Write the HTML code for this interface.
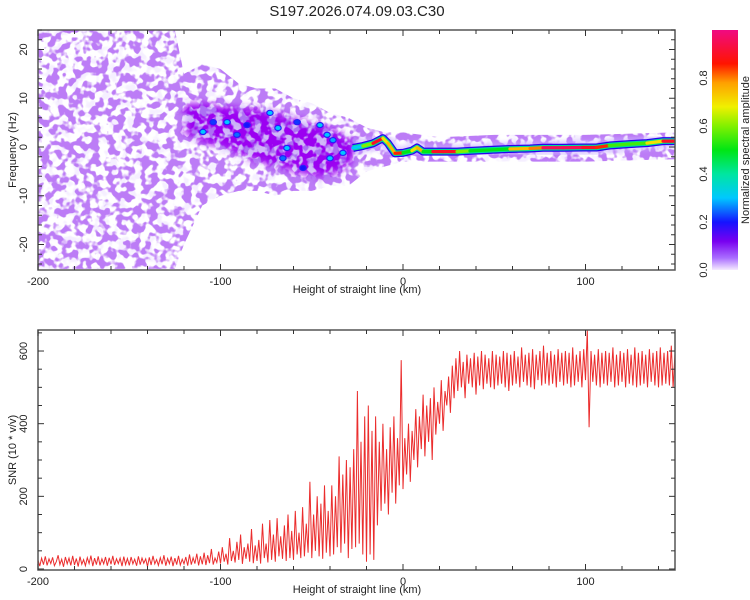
<!DOCTYPE html>
<html><head><meta charset="utf-8"><style>
html,body{margin:0;padding:0;background:#fff;}
svg{display:block;font-family:"Liberation Sans",sans-serif;}
</style></head><body>
<svg id="c" width="750" height="600" viewBox="0 0 750 600" xmlns="http://www.w3.org/2000/svg">
<defs>
<clipPath id="topClip"><rect x="38" y="30" width="637" height="240"/></clipPath>
<clipPath id="botClip"><rect x="38" y="330" width="637" height="240"/></clipPath>
<clipPath id="noiseClip"><polygon id="noisePoly" points=""/></clipPath>
<mask id="denseMask" maskUnits="userSpaceOnUse" x="0" y="0" width="750" height="300"><polygon id="densePoly" points="" fill="white" filter="url(#blur3)"/></mask>
<filter id="speckLight" x="0" y="0" width="750" height="300" filterUnits="userSpaceOnUse">
<feTurbulence type="fractalNoise" baseFrequency="0.11" numOctaves="2" seed="3"/>
<feColorMatrix type="matrix" values="0 0 0 0 0.86  0 0 0 0 0.78  0 0 0 0 1  6 0 0 0 -3.0"/>
</filter>
<filter id="speckDark" x="0" y="0" width="750" height="300" filterUnits="userSpaceOnUse">
<feTurbulence type="fractalNoise" baseFrequency="0.12" numOctaves="2" seed="11"/>
<feColorMatrix type="matrix" values="0 0 0 0 0.5  0 0 0 0 0.2  0 0 0 0 0.92  9 0 0 0 -4.2"/>
</filter>
<filter id="speckDense" x="0" y="0" width="750" height="300" filterUnits="userSpaceOnUse">
<feTurbulence type="fractalNoise" baseFrequency="0.13" numOctaves="2" seed="7"/>
<feColorMatrix type="matrix" values="0 0 0 0 0.33  0 0 0 0 0.0  0 0 0 0 0.88  8 0 0 0 -3.4"/>
</filter>
<filter id="blur2"><feGaussianBlur stdDeviation="2"/></filter>
<filter id="blur3" x="-20%" y="-20%" width="140%" height="140%"><feGaussianBlur stdDeviation="4"/></filter>
<linearGradient id="cbar" x1="0" y1="1" x2="0" y2="0">
<stop offset="0" stop-color="rgb(245,235,255)"/><stop offset="0.05" stop-color="rgb(170,110,255)"/>
<stop offset="0.12" stop-color="rgb(120,0,240)"/><stop offset="0.2" stop-color="rgb(20,20,255)"/>
<stop offset="0.3" stop-color="rgb(0,200,255)"/><stop offset="0.4" stop-color="rgb(0,230,160)"/>
<stop offset="0.5" stop-color="rgb(0,230,20)"/><stop offset="0.6" stop-color="rgb(130,240,0)"/>
<stop offset="0.68" stop-color="rgb(240,240,0)"/><stop offset="0.78" stop-color="rgb(255,160,0)"/>
<stop offset="0.86" stop-color="rgb(255,20,0)"/><stop offset="1" stop-color="rgb(240,10,130)"/>
</linearGradient>
</defs>
<text x="357" y="16" font-size="15" text-anchor="middle" fill="#222">S197.2026.074.09.03.C30</text>
<g id="topG"></g>
<g id="botG"></g>
<g>
<rect x="712" y="30" width="26" height="240" fill="url(#cbar)"/>
<text transform="translate(749,150) rotate(-90)" font-size="11" text-anchor="middle" fill="#222">Normalized spectral amplitude</text>
</g>
<text transform="translate(16,150) rotate(-90)" font-size="11" text-anchor="middle" fill="#222">Frequency (Hz)</text>
<text x="357" y="293" font-size="11" text-anchor="middle" fill="#222">Height of straight line (km)</text>
<text transform="translate(16,450) rotate(-90)" font-size="11" text-anchor="middle" fill="#222">SNR (10 * v/v)</text>
<text x="357" y="593" font-size="11" text-anchor="middle" fill="#222">Height of straight line (km)</text>
</svg>
<script>
// ---- data ----
const xTicks = [-200, -100, 0, 100];
const freqTicks = [20, 10, 0, -10, -20];
const snrTicks = [0, 200, 400, 600];
const cbarTicks = [0.0, 0.2, 0.4, 0.6, 0.8];
const noiseX = [-200,-125,-120,-110,-100,-90,-80,-70,-60,-50,-40,-30,-20,-10,0,20,50,100,150];
const noiseTop = [24,24,15,17,16,13,12,12,10,9,7,6,4,3,3,2,2.5,2.5,3];
const noiseBot = [-25,-25,-20,-12,-10,-9,-9,-10,-9,-9,-8,-8,-5,-4,-3,-3,-3,-3,-2.5];
const denseX = [-120,-110,-100,-90,-80,-70,-60,-50,-40,-30,-25];
const denseTop = [9,9,8.5,8,8,7,6,5,4,2,1];
const denseBot = [3,1,0,-1.5,-3,-4,-5,-6,-6,-4,-1];
const spotX = [-109.6,-96.4,-91,-72.9,-68.5,-63.6,-65.8,-45.5,-41.6,-38.4,-40,-32.9,-58,-85.5,-104,-54.8];
const spotF = [3.1,5.1,2.5,7,3.9,-0.2,-2.3,4.5,2.5,1.4,-2.3,-1.2,5.1,4.5,5.1,-4.3];
const spotA = [0.3,0.3,0.25,0.3,0.3,0.3,0.25,0.32,0.3,0.28,0.3,0.3,0.22,0.2,0.22,0.2];
const ridgeX = [-27.4,-22,-16.4,-11,-8.2,-4.4,0,4.9,7.7,11,16.4,22,29.6,36.7,47.7,58.6,69.6,76.7,87.7,98.6,106,113,124,133.7,142.5,149];
const ridgeF = [-0.2,0.2,0.75,1.8,0.75,-1.3,-1.2,-0.75,-0.1,-0.95,-0.95,-0.95,-0.95,-0.8,-0.6,-0.4,-0.3,-0.15,-0.15,-0.1,-0.1,0.3,0.6,0.8,1.2,1.2];
const ridgeA = [0.3,0.6,0.9,0.7,0.75,0.85,0.5,0.7,0.75,0.5,0.9,0.9,0.6,0.5,0.5,0.75,0.8,0.95,0.95,0.9,0.85,0.55,0.55,0.7,0.9,0.9];
const snrStart = -200, snrStep = 1;
const snrValues = [
25,8,30,12,35,10,28,15,32,9,
20,38,12,27,6,33,14,30,10,36,
11,29,7,34,13,26,9,31,15,37,
8,30,12,35,10,28,14,33,9,31,
13,36,11,28,15,30,8,34,12,29,
10,33,14,27,9,35,12,30,16,28,
7,32,11,36,14,26,10,31,13,38,
9,29,15,34,8,30,12,36,11,27,
14,33,9,40,12,31,15,42,10,35,
13,45,11,38,16,55,12,30,18,48,
15,60,20,42,12,85,22,50,18,75,
25,95,14,60,28,70,20,110,16,65,
22,80,15,125,30,70,18,135,25,95,
20,140,35,90,28,120,22,150,30,105,
25,160,40,100,30,170,35,125,45,240,
30,150,50,200,35,180,28,230,45,160,
35,230,40,200,60,310,45,260,70,300,
30,280,55,330,60,490,70,350,40,420,
20,450,40,380,25,420,120,350,160,400,
180,330,150,390,210,420,180,360,230,575,
220,360,260,400,240,380,300,440,280,420,
330,480,310,450,350,470,300,500,370,460,
400,520,380,490,450,530,430,560,470,580,
490,600,500,570,470,590,510,580,500,595,
480,585,505,600,495,590,510,580,500,600,
495,590,505,585,510,600,500,595,490,590,
505,600,510,585,500,610,515,590,505,595,
500,605,495,590,520,600,505,615,510,595,
505,600,510,590,500,605,515,595,505,600,
510,595,500,610,505,590,515,600,500,605,
520,660,390,600,515,590,505,605,500,595,
510,600,505,595,515,610,500,590,505,600,
515,595,500,605,510,590,505,610,500,595,
505,600,510,590,500,605,515,595,505,600,
500,610,505,595,510,600,505,615,500,590];

// ---- scales ----
const X = km => 38 + (km + 200) * 1.825;
const Fy = f => 147 - f * 4.875;
const Sy = v => 569 - v * 0.3633;
const NS = 'http://www.w3.org/2000/svg';
function mk(tag, attrs, parent){const e=document.createElementNS(NS,tag);for(const k in attrs)e.setAttribute(k,attrs[k]);parent.appendChild(e);return e;}
const stops=[[0,[245,235,255]],[0.05,[170,110,255]],[0.12,[120,0,240]],[0.2,[20,20,255]],[0.3,[0,200,255]],[0.4,[0,230,160]],[0.5,[0,230,20]],[0.6,[130,240,0]],[0.68,[240,240,0]],[0.78,[255,160,0]],[0.86,[255,20,0]],[1,[240,10,130]]];
function cmap(a){for(let i=1;i<stops.length;i++){if(a<=stops[i][0]){const t=(a-stops[i-1][0])/(stops[i][0]-stops[i-1][0]);const c=stops[i-1][1].map((v,j)=>Math.round(v+(stops[i][1][j]-v)*t));return `rgb(${c})`;}}return 'rgb(240,10,130)';}

const topPanel = document.getElementById('topG');
const botPanel = document.getElementById('botG');

let pts = noiseX.map((x,i)=>`${X(x)},${Fy(noiseTop[i])}`);
for(let i=noiseX.length-1;i>=0;i--) pts.push(`${X(noiseX[i])},${Fy(noiseBot[i])}`);
document.getElementById('noisePoly').setAttribute('points', pts.join(' '));
let dp = denseX.map((x,i)=>`${X(x)},${Fy(denseTop[i])}`);
for(let i=denseX.length-1;i>=0;i--) dp.push(`${X(denseX[i])},${Fy(denseBot[i])}`);
document.getElementById('densePoly').setAttribute('points', dp.join(' '));

const heat = mk('g',{'clip-path':'url(#topClip)'},topPanel);


const nl = mk('g',{'clip-path':'url(#noiseClip)'},heat);


mk('rect',{x:38,y:30,width:637,height:240,filter:'url(#speckLight)',opacity:0.6},nl);
mk('rect',{x:38,y:30,width:637,height:240,filter:'url(#speckDark)'},nl);

const dl = mk('g',{mask:'url(#denseMask)'},heat);


mk('rect',{x:38,y:30,width:637,height:240,fill:'rgb(150,100,240)',opacity:0.45},dl);
mk('rect',{x:38,y:30,width:637,height:240,filter:'url(#speckDense)'},dl);

spotX.forEach((x,i)=>{
  const s = mk('ellipse',{cx:X(x),cy:Fy(spotF[i]),rx:3.2,ry:2.6,fill:cmap(spotA[i]),stroke:'rgb(40,30,250)','stroke-width':1.2},heat);
  
  
});

const rp = ridgeX.map((x,i)=>`${X(x)},${Fy(ridgeF[i])}`).join(' ');
const halo = mk('polyline',{points:rp,fill:'none',stroke:'rgb(200,170,255)','stroke-width':14,'stroke-linejoin':'round',filter:'url(#blur2)',opacity:0.6},heat);


const edge = mk('polyline',{points:rp,fill:'none',stroke:'rgb(40,0,240)','stroke-width':8,'stroke-linejoin':'round'},heat);


const mid = mk('polyline',{points:rp,fill:'none',stroke:'rgb(0,220,150)','stroke-width':5.5,'stroke-linejoin':'round'},heat);


for(let i=0;i<ridgeX.length-1;i++){
  const seg = mk('line',{x1:X(ridgeX[i]),y1:Fy(ridgeF[i]),x2:X(ridgeX[i+1]),y2:Fy(ridgeF[i+1]),stroke:cmap(ridgeA[i]),'stroke-width':3.2,'stroke-linecap':'round'},heat);
  
  
}

const sp = snrValues.map((v,i)=>`${X(snrStart+i*snrStep).toFixed(1)},${Sy(v).toFixed(1)}`).join(' ');
const snrLine = mk('polyline',{points:sp,fill:'none',stroke:'rgb(235,45,45)','stroke-width':1,'clip-path':'url(#botClip)'},botPanel);



function frame(g,y0){
  const r = mk('rect',{x:38,y:y0,width:637,height:240,fill:'none',stroke:'#555','stroke-width':1.5},g);
  
  
  for(let km=-200;km<=150;km+=20){
    const major = km%100===0, len = major?6:4;
    mk('line',{x1:X(km),y1:y0+240,x2:X(km),y2:y0+240-len,stroke:'#333'},g);
    mk('line',{x1:X(km),y1:y0,x2:X(km),y2:y0+len,stroke:'#333'},g);
  }
  xTicks.forEach(t=>{
    const tx = mk('text',{x:X(t),y:y0+255,'font-size':11,'text-anchor':'middle',fill:'#222'},g);
    
    
    tx.textContent = t;
  });
}
frame(topPanel,30); frame(botPanel,330);
for(let f=-24;f<=24;f+=2){
  const len = f%10===0?6:4;
  mk('line',{x1:38,y1:Fy(f),x2:38+len,y2:Fy(f),stroke:'#333'},topPanel);
  mk('line',{x1:675,y1:Fy(f),x2:675-len,y2:Fy(f),stroke:'#333'},topPanel);
}
freqTicks.forEach(f=>{
  const t = mk('text',{transform:`translate(27,${Fy(f)}) rotate(-90)`,'font-size':11,'text-anchor':'middle',fill:'#222'},topPanel);
  
  
  t.textContent = f;
});
for(let v=0;v<=650;v+=50){
  const len = v%200===0?6:4;
  mk('line',{x1:38,y1:Sy(v),x2:38+len,y2:Sy(v),stroke:'#333'},botPanel);
  mk('line',{x1:675,y1:Sy(v),x2:675-len,y2:Sy(v),stroke:'#333'},botPanel);
}
snrTicks.forEach(v=>{
  const t = mk('text',{transform:`translate(27,${Sy(v)}) rotate(-90)`,'font-size':11,'text-anchor':'middle',fill:'#222'},botPanel);
  
  
  t.textContent = v;
});
const svg = document.getElementById('c');
cbarTicks.forEach(v=>{
  const y = 270 - v*240;
  const t = mk('text',{transform:`translate(707,${y}) rotate(-90)`,'font-size':11,'text-anchor':'middle',fill:'#222'},svg);
  
  
  t.textContent = v.toFixed(1);
});
</script>
</body></html>
